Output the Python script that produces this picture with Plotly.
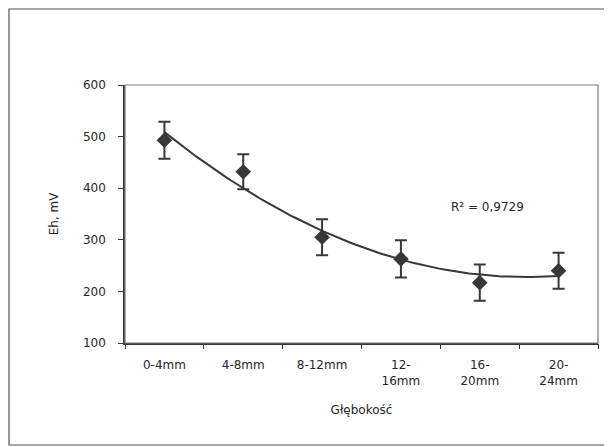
import numpy as np
import plotly.graph_objects as go

categories = ["0-4mm", "4-8mm", "8-12mm", "12-<br>16mm", "16-<br>20mm", "20-<br>24mm"]
eh_mean = [493, 432, 305, 263, 217, 240]
eh_err = [36, 34, 35, 36, 35, 35]
r2_label = "R² = 0,9729"
y_ticks = [100, 200, 300, 400, 500, 600]

pos = list(range(1, len(categories) + 1))
coef = np.polyfit(pos, eh_mean, 2)
xt = np.linspace(pos[0], pos[-1], 120)
yt = np.polyval(coef, xt)

dark = "#383838"
txt = "#262626"
font = "DejaVu Sans, sans-serif"
fs = 12

fig = go.Figure()
fig.add_trace(go.Scatter(x=xt, y=yt, mode="lines",
                         line=dict(color=dark, width=2), hoverinfo="skip"))
fig.add_trace(go.Scatter(
    x=pos, y=eh_mean, mode="markers",
    marker=dict(symbol="diamond", size=12, color=dark),
    error_y=dict(type="data", array=eh_err, visible=True,
                 color=dark, thickness=2, width=6)))

# invisible trace on overlay axis for boundary ticks
fig.add_trace(go.Scatter(x=[0.5, 6.5], y=[100, 100], xaxis="x2",
                         mode="markers", marker=dict(opacity=0),
                         hoverinfo="skip"))

fig.update_layout(
    width=604, height=439,
    margin=dict(l=117, r=14, t=77, b=104),
    paper_bgcolor="white", plot_bgcolor="white",
    showlegend=False,
    font=dict(family=font, size=fs, color=txt),
    xaxis=dict(range=[0.5, 6.5], tickvals=pos, ticktext=categories,
               ticks="", showgrid=False, zeroline=False,
               showline=True, linecolor=dark, linewidth=1.5,
               ticklabelstandoff=10,
               tickfont=dict(size=fs),
               title=dict(text="Głębokość", font=dict(size=fs), standoff=19)),
    xaxis2=dict(range=[0.5, 6.5], overlaying="x", anchor="y", side="bottom",
                tickvals=[0.5 + i for i in range(len(categories) + 1)],
                ticks="outside", ticklen=5, tickcolor=dark, tickwidth=1,
                showticklabels=False, showgrid=False, zeroline=False,
                showline=False),
    yaxis=dict(range=[100, 600], tickvals=y_ticks, ticks="outside",
               ticklen=5, tickcolor=dark, showgrid=False, zeroline=False,
               showline=True, linecolor=dark, linewidth=1.5,
               ticklabelstandoff=10,
               tickfont=dict(size=fs),
               title=dict(text="Eh, mV", font=dict(size=fs), standoff=22)),
    annotations=[dict(x=5.1, y=363, xref="x", yref="y", text=r2_label,
                      showarrow=False, font=dict(size=fs, color=txt))],
    shapes=[
        dict(type="rect", xref="paper", yref="paper", x0=0, x1=1, y0=0, y1=1,
             line=dict(color="#7a7a7a", width=1.2)),
        dict(type="rect", xref="paper", yref="paper",
             x0=-116 / 473, x1=1 + 40 / 473,
             y0=-102 / 258, y1=1 + 76 / 258,
             line=dict(color="#555555", width=1.2)),
    ],
)

fig.write_html("out.html")
